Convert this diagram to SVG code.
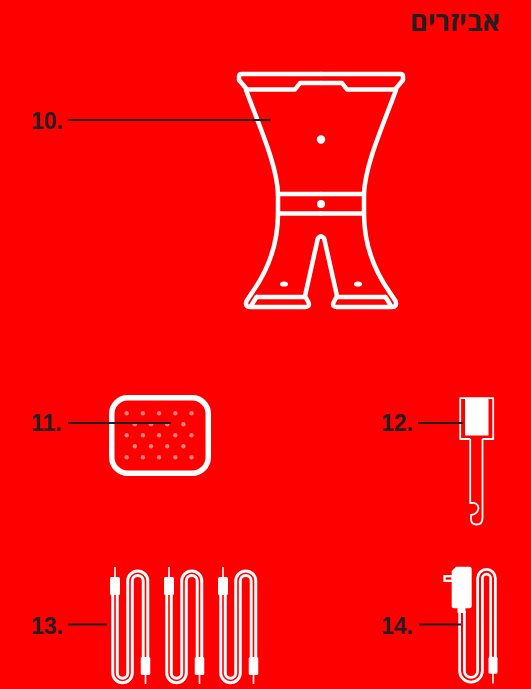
<svg xmlns="http://www.w3.org/2000/svg" xmlns:xlink="http://www.w3.org/1999/xlink" width="531" height="689" viewBox="0 0 531 689">
  <style>
    .bg{fill:#ff0000}
    .ln{fill:none;stroke:#fff;stroke-width:4.5;stroke-linecap:round;stroke-linejoin:round}
    .thin{fill:none;stroke:#fff;stroke-width:1.8;stroke-linejoin:round}
    .wf{fill:#fff}
    .num{font-family:"Liberation Sans",Arial,sans-serif;font-weight:bold;font-size:23px;fill:#231f20}
    .title{font-family:"Open Sans","DejaVu Sans",sans-serif;font-weight:bold;font-size:27px;fill:#231f20}
    .leader{stroke:#231f20;stroke-width:2;fill:none}
    .tube{fill:none;stroke:#fff;stroke-width:7.5;stroke-linejoin:round}
    .core{fill:none;stroke:#ff0000;stroke-width:1.6}
    .dot{fill:#fff;fill-opacity:0.5}
  </style>
  <defs>
    <!-- left half of the stand; mirrored for the right half -->
    <g id="stand-half">
      <path class="ln" d="M321,83 H300 L295,89.5 H247 L239,80 V76.5 Q239,74 241.5,74 H321"/>
      <path class="ln" d="M246,90 C260,128 277,165 278,194 V213.5 C278,245 268,270 252.5,292 L246.5,301 Q244.5,307 250.5,307 H305.5 Q310,307 308.5,302.5 L305,296 L317.5,240 A3.5,3.5 0 0 1 321,236.5"/>
      <path class="ln" d="M278,194 H321 M278,213.5 H321"/>
      <path class="ln" d="M256.5,297 H304 M256.5,297 L251,306"/>
      <ellipse class="wf" cx="284" cy="284" rx="4" ry="2.6"/>
    </g>
    <!-- one cable with a connector at each end -->
    <g id="cable">
      <path class="tube" d="M0,594 V673 A7.5,7.5 0 0 0 15,673 V581 A7.75,7.75 0 0 1 30.5,581 V658"/>
      <path class="core" d="M0,594 V673 A7.5,7.5 0 0 0 15,673 V581 A7.75,7.75 0 0 1 30.5,581 V658"/>
      <rect class="wf" x="-0.8" y="567" width="1.6" height="11"/>
      <rect class="wf" x="-5" y="577" width="10" height="18" rx="1.5"/>
      <rect class="wf" x="25.75" y="657" width="9.5" height="18" rx="1.5"/>
      <rect class="wf" x="29.7" y="674" width="1.6" height="10"/>
    </g>
  </defs>

  <rect class="bg" x="0" y="0" width="531" height="689"/>

  <g id="title">
    <text class="title" x="500" y="31" text-anchor="end">אביזרים</text>
  </g>

  <g id="item-10">
    <text class="num" x="31" y="129">10.</text>
    <use href="#stand-half" xlink:href="#stand-half"/>
    <use href="#stand-half" xlink:href="#stand-half" transform="translate(642,0) scale(-1,1)"/>
    <circle class="wf" cx="321" cy="139.5" r="4.2"/>
    <circle class="wf" cx="321" cy="204" r="4"/>
  </g>

  <g id="item-11">
    <text class="num" x="31" y="431">11.</text>
    <rect x="111.75" y="397.75" width="96.5" height="75.5" rx="16" fill="none" stroke="#fff" stroke-width="5.5"/>
    <g class="dot">
      <circle cx="126.7" cy="413.3" r="2.2"/><circle cx="142.9" cy="413.3" r="2.2"/><circle cx="159.1" cy="413.3" r="2.2"/><circle cx="175.3" cy="413.3" r="2.2"/><circle cx="191.5" cy="413.3" r="2.2"/>
      <circle cx="134.8" cy="424.3" r="2.2"/><circle cx="151" cy="424.3" r="2.2"/><circle cx="167.2" cy="424.3" r="2.2"/><circle cx="183.4" cy="424.3" r="2.2"/>
      <circle cx="126.7" cy="435.3" r="2.2"/><circle cx="142.9" cy="435.3" r="2.2"/><circle cx="159.1" cy="435.3" r="2.2"/><circle cx="175.3" cy="435.3" r="2.2"/><circle cx="191.5" cy="435.3" r="2.2"/>
      <circle cx="134.8" cy="446.3" r="2.2"/><circle cx="151" cy="446.3" r="2.2"/><circle cx="167.2" cy="446.3" r="2.2"/><circle cx="183.4" cy="446.3" r="2.2"/>
      <circle cx="126.7" cy="457.3" r="2.2"/><circle cx="142.9" cy="457.3" r="2.2"/><circle cx="159.1" cy="457.3" r="2.2"/><circle cx="175.3" cy="457.3" r="2.2"/><circle cx="191.5" cy="457.3" r="2.2"/>
    </g>
  </g>

  <g id="item-12">
    <text class="num" x="381" y="431">12.</text>
    <path class="thin" d="M470.2,439 H460.2 V398.2 H493.2 V439 H482.5"/>
    <rect class="wf" x="465" y="398" width="23.5" height="37.5"/>
    <path class="thin" d="M470.2,439 V503 Q478,502 478.5,508 Q478,514 471,515 V519 Q471,524.5 476.5,524.5 Q482.5,524.5 482.5,518 V439"/>
  </g>

  <g id="item-13">
    <text class="num" x="31" y="634">13.</text>
    <use href="#cable" xlink:href="#cable" x="115"/>
    <use href="#cable" xlink:href="#cable" x="169"/>
    <use href="#cable" xlink:href="#cable" x="223"/>
  </g>

  <g id="item-14">
    <text class="num" x="381" y="634">14.</text>
    <path d="M462,611 V670.8 A9,9 0 0 0 480,670.8 V578.3 A6.5,6.5 0 0 1 493,578.3 V658" fill="none" stroke="#fff" stroke-width="7.5"/>
    <path d="M462,611 V670.8 A9,9 0 0 0 480,670.8 V578.3 A6.5,6.5 0 0 1 493,578.3 V658" fill="none" stroke="#ff0000" stroke-width="2"/>
    <rect x="444.5" y="576.2" width="8" height="4.6" fill="none" stroke="#fff" stroke-width="2.3"/>
    <path class="wf" d="M456,566.7 H469.5 Q471.7,566.7 471.7,569 V606 Q471.7,608.3 469.5,608.3 H454 Q451.7,608.3 451.7,606 V571 Z"/>
    <rect class="wf" x="457.5" y="607" width="8" height="6"/>
    <rect class="wf" x="488.5" y="656.7" width="9" height="17" rx="1.5"/>
    <rect class="wf" x="492.2" y="672" width="1.6" height="11.5"/>
  </g>

  <g id="connectors">
    <path class="leader" d="M68,120 H271"/>
    <path class="leader" d="M68,423 H171"/>
    <path class="leader" d="M418,423 H463"/>
    <path class="leader" d="M68,624.5 H107"/>
    <path class="leader" d="M419,624.5 H461"/>
  </g>
</svg>
